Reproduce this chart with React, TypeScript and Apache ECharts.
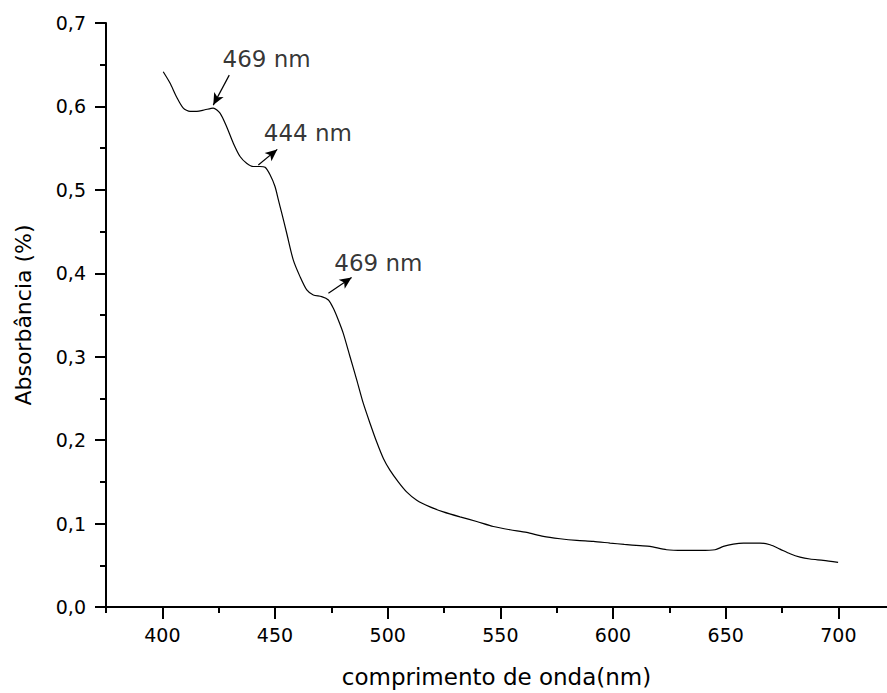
import React, { useEffect, useRef } from "react";
import * as echarts from "echarts";

// Spectrum (wavelength in nm, absorbance)
const wavelength = [
  400.4, 403.4, 406.4, 409.3, 412.3, 415.3, 418.9, 422.6, 425.6, 428.5,
  431.5, 434.5, 437.4, 440.4, 443.3, 445.6, 447.8, 450.0, 451.5, 453.0,
  455.2, 458.1, 461.1, 464.1, 467.0, 470.7, 473.7, 475.9, 478.1, 480.3,
  483.3, 486.3, 489.2, 492.2, 495.1, 498.1, 501.0, 504.7, 508.4, 512.9,
  518.8, 524.7, 532.1, 539.5, 546.9, 554.3, 561.7, 569.1, 576.5, 583.9,
  591.3, 598.7, 605.0, 612.0, 616.4, 623.8, 631.2, 638.6, 645.3, 649.0,
  653.4, 657.9, 665.2, 669.7, 674.1, 678.6, 683.0, 687.4, 693.3, 699.9,
];
const absorbance = [
  0.6415, 0.628, 0.611, 0.598, 0.594, 0.594, 0.596, 0.598, 0.592, 0.576,
  0.556, 0.54, 0.532, 0.528, 0.528, 0.527, 0.518, 0.504, 0.488, 0.472,
  0.448, 0.416, 0.396, 0.38, 0.374, 0.372, 0.368, 0.358, 0.344, 0.328,
  0.3, 0.272, 0.244, 0.22, 0.198, 0.178, 0.164, 0.15, 0.138, 0.128,
  0.12, 0.114, 0.108, 0.1025, 0.0965, 0.0926, 0.0894, 0.0846, 0.0818, 0.0798,
  0.0786, 0.0766, 0.075, 0.0735, 0.0726, 0.0686, 0.0678, 0.0678, 0.0686, 0.0726,
  0.0754, 0.0766, 0.0766, 0.0746, 0.0694, 0.0638, 0.0598, 0.0575, 0.0558, 0.0534,
];

// Axis ticks
const xMajorTicks = [400, 450, 500, 550, 600, 650, 700];
const xMinorTicks = [375, 425, 475, 525, 575, 625, 675];

// Annotations
const annoLabels = ["469 nm", "444 nm", "469 nm"];
const annoTextX = [446.3, 464.6, 495.9];
const annoTextY = [0.6566, 0.5677, 0.4129];
const arrowTailX = [429.7, 442.6, 473.7];
const arrowTailY = [0.6375, 0.5297, 0.376];
const arrowHeadX = [422.6, 451.0, 484.0];
const arrowHeadY = [0.6016, 0.5485, 0.395];

const FONT = "DejaVu Sans";
const INK = "#000";

export default function App() {
  const ref = useRef<HTMLDivElement>(null);

  useEffect(() => {
    if (!ref.current) return;
    const chart = echarts.init(ref.current, undefined, { renderer: "svg" });
    const X_MIN = 375;
    const X_MAX = 721.6;

    chart.setOption({
      animation: false,
      backgroundColor: "#fff",
      grid: {
        left: 106,
        right: 0,
        top: 23,
        bottom: 86,
        containLabel: false,
        outerBoundsMode: "none",
      },
      xAxis: [
        {
          type: "value",
          min: X_MIN,
          max: X_MAX,
          position: "bottom",
          name: "comprimento de onda(nm)",
          nameLocation: "middle",
          nameGap: 58,
          nameTextStyle: { fontFamily: FONT, fontSize: 23, color: INK },
          axisLine: { show: true, lineStyle: { color: "#000", width: 2 } },
          axisTick: {
            show: true,
            customValues: xMajorTicks,
            length: 12,
            lineStyle: { color: "#000", width: 2 },
          },
          axisLabel: {
            customValues: xMajorTicks,
            margin: 18,
            fontFamily: FONT,
            fontSize: 19,
            color: INK,
          },
          splitLine: { show: false },
        },
        {
          type: "value",
          min: X_MIN,
          max: X_MAX,
          position: "bottom",
          axisLine: { show: false },
          axisTick: {
            show: true,
            customValues: xMinorTicks,
            length: 6,
            lineStyle: { color: "#000", width: 2 },
          },
          axisLabel: { show: false },
          splitLine: { show: false },
        },
      ],
      yAxis: {
        type: "value",
        min: 0,
        max: 0.7,
        interval: 0.1,
        name: "Absorbância (%)",
        nameLocation: "middle",
        nameGap: 72,
        nameRotate: 90,
        nameTextStyle: { fontFamily: FONT, fontSize: 22, color: INK },
        axisLine: { show: true, lineStyle: { color: "#000", width: 2 } },
        axisTick: { show: true, length: 11, lineStyle: { color: "#000", width: 2 } },
        minorTick: { show: true, splitNumber: 2, length: 6, lineStyle: { color: "#000", width: 2 } },
        axisLabel: {
          margin: 20,
          fontFamily: FONT,
          fontSize: 19,
          color: INK,
          formatter: (v: number) => v.toFixed(1).replace(".", ","),
        },
        splitLine: { show: false },
      },
      series: [
        {
          type: "line",
          data: wavelength.map((w, i) => [w, absorbance[i]]),
          showSymbol: false,
          symbol: "none",
          smooth: 0.25,
          lineStyle: { color: "#000", width: 1.2 },
          silent: true,
          markLine: {
            silent: true,
            symbol: ["none", "arrow"],
            symbolSize: [8, 12],
            label: { show: false },
            lineStyle: { color: "#000", width: 1.2, type: "solid" },
            data: arrowTailX.map((tx, i) => [
              { coord: [tx, arrowTailY[i]] },
              { coord: [arrowHeadX[i], arrowHeadY[i]] },
            ]),
          },
        },
        {
          type: "scatter",
          data: annoLabels.map((t, i) => [annoTextX[i], annoTextY[i], t]),
          symbolSize: 1,
          itemStyle: { color: "rgba(0,0,0,0)" },
          silent: true,
          label: {
            show: true,
            position: "inside",
            formatter: (p: any) => p.data[2],
            fontFamily: FONT,
            fontSize: 23,
            color: INK,
          },
        },
      ],
    });

    return () => chart.dispose();
  }, []);

  return (
    <div
      ref={ref}
      style={{ position: "fixed", left: 0, top: 0, width: 887, height: 693, background: "#fff" }}
    />
  );
}
